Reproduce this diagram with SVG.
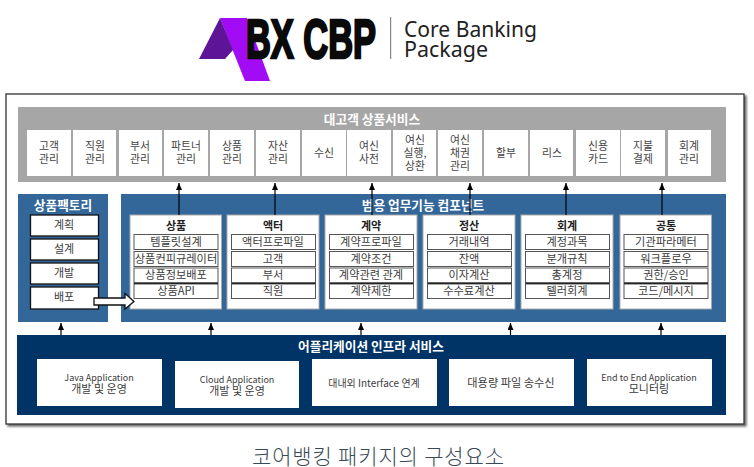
<svg xmlns="http://www.w3.org/2000/svg" width="754" height="467" viewBox="0 0 754 467">
<style>
text{font-family:"Noto Sans CJK KR","Liberation Sans",sans-serif;text-anchor:middle}
.h{font-size:12.7px;font-weight:700;fill:#fff}
.c{fill:#fff}
.cell{font-size:10.8px;fill:#444}
.ct{font-size:11px;font-weight:700;fill:#222}
.row{fill:#fff;stroke:#555;stroke-width:1}
.d{stroke:#222;stroke-width:1.6}
.f{fill:#fff;stroke:#111;stroke-width:1.3}
.b{font-size:11.2px;fill:#3c3c3c}
.e{font-size:9px;fill:#3c3c3c}
.k{font-size:11px;fill:#3c3c3c}
.l{stroke:#000;stroke-width:1.2;fill:none;marker-end:url(#a)}
</style>
<defs>
<marker id="a" markerUnits="userSpaceOnUse" markerWidth="8" markerHeight="7" refX="7" refY="3" orient="auto"><path d="M0 0L7 3L0 6Z" fill="#000"/></marker>
<filter id="s" x="-2%" y="-2%" width="104%" height="104%"><feDropShadow dx="2" dy="2" stdDeviation="1.2" flood-color="#666"/></filter>
</defs>
<rect width="754" height="467" fill="#fff"/>
<g id="logo">
<path d="M220 18H247L270 81H245L229 41Z" fill="#a10cf5"/>
<path d="M199 59L220 18L233 50L225 59Z" fill="#5e1496"/>
<text x="311" y="58" style="font-family:'Liberation Sans',sans-serif;font-weight:700;font-size:55px;fill:#0a0a0a;stroke:#0a0a0a;stroke-width:2.6" textLength="130" lengthAdjust="spacingAndGlyphs">BX CBP</text>
<rect x="390" y="17" width="1.2" height="42" fill="#888"/>
<text x="404" y="37" style="text-anchor:start;font-size:21px;fill:#222;font-family:'Noto Sans',sans-serif" textLength="133" lengthAdjust="spacingAndGlyphs">Core Banking</text>
<text x="404" y="57" style="text-anchor:start;font-size:21px;fill:#222;font-family:'Noto Sans',sans-serif" textLength="84" lengthAdjust="spacingAndGlyphs">Package</text>
</g>
<rect id="frame" x="6" y="94" width="738" height="330" fill="#fff" stroke="#333" stroke-width="1.3" filter="url(#s)"/>
<g id="customer-services">
<rect x="18" y="107" width="708" height="75" fill="#a6a6a6"/>
<text class="h" x="372" y="124">대고객 상품서비스</text>
<g class="c">
<rect x="27" y="130" width="44" height="46"/><rect x="73" y="130" width="43" height="46"/><rect x="119" y="130" width="43" height="46"/><rect x="164" y="130" width="44" height="46"/><rect x="210" y="130" width="44" height="46"/><rect x="256" y="130" width="44" height="46"/><rect x="302" y="130" width="44" height="46"/><rect x="347" y="130" width="44" height="46"/><rect x="393" y="130" width="43" height="46"/><rect x="438" y="130" width="44" height="46"/><rect x="484" y="130" width="44" height="46"/><rect x="530" y="130" width="43" height="46"/><rect x="576" y="130" width="44" height="46"/><rect x="621" y="130" width="44" height="46"/><rect x="668" y="130" width="43" height="46"/>
</g>
<text class="cell" x="49" y="150">고객</text><text class="cell" x="49" y="163">관리</text>
<text class="cell" x="95" y="150">직원</text><text class="cell" x="95" y="163">관리</text>
<text class="cell" x="140" y="150">부서</text><text class="cell" x="140" y="163">관리</text>
<text class="cell" x="186" y="150">파트너</text><text class="cell" x="186" y="163">관리</text>
<text class="cell" x="232" y="150">상품</text><text class="cell" x="232" y="163">관리</text>
<text class="cell" x="278" y="150">자산</text><text class="cell" x="278" y="163">관리</text>
<text class="cell" x="324" y="157">수신</text>
<text class="cell" x="369" y="150">여신</text><text class="cell" x="369" y="163">사전</text>
<text class="cell" x="415" y="144">여신</text><text class="cell" x="415" y="157">실행,</text><text class="cell" x="415" y="170">상환</text>
<text class="cell" x="460" y="144">여신</text><text class="cell" x="460" y="157">채권</text><text class="cell" x="460" y="170">관리</text>
<text class="cell" x="506" y="157">할부</text>
<text class="cell" x="552" y="157">리스</text>
<text class="cell" x="598" y="150">신용</text><text class="cell" x="598" y="163">카드</text>
<text class="cell" x="643" y="150">지불</text><text class="cell" x="643" y="163">결제</text>
<text class="cell" x="689" y="150">회계</text><text class="cell" x="689" y="163">관리</text>
</g>
<g id="product-factory">
<rect x="18" y="194" width="90" height="128" fill="#336699"/>
<text class="h" x="63" y="210">상품팩토리</text>
<rect class="f" x="30.500" y="215" width="68" height="21"/><rect class="f" x="30.500" y="239" width="68" height="21"/><rect class="f" x="30.500" y="263" width="68" height="21"/><rect class="f" x="30.500" y="287" width="68" height="22"/>
<text class="k" x="64" y="229">계획</text><text class="k" x="64" y="253">설계</text><text class="k" x="64" y="277">개발</text><text class="k" x="64" y="301">배포</text>
</g>
<g id="business-components">
<rect x="121" y="194" width="605" height="128" fill="#336699"/>
<text class="h" x="423" y="210">범용 업무기능 컴포넌트</text>
</g>
<g id="card-product">
<rect x="130" y="215" width="91.500" height="94" fill="#fff" stroke="#aaa"/>
<text class="ct" x="176" y="230">상품</text>
<rect class="row" x="134" y="234.500" width="84" height="15"/><rect class="row" x="134" y="251.500" width="84" height="15"/><rect class="row" x="134" y="268" width="84" height="15"/><rect class="row" x="134" y="284" width="84" height="14.500"/><path class="d" d="M134 283.200H218"/>
<text class="b" x="176" y="246">템플릿설계</text><text class="b" x="176" y="263">상품컨피규레이터</text><text class="b" x="176" y="279">상품정보배포</text><text class="b" x="176" y="295">상품API</text>
</g>
<g id="card-actor">
<rect x="227" y="215" width="92" height="94" fill="#fff" stroke="#aaa"/>
<text class="ct" x="273" y="230">액터</text>
<rect class="row" x="231.500" y="234.500" width="84" height="15"/><rect class="row" x="231.500" y="251.500" width="84" height="15"/><rect class="row" x="231.500" y="268" width="84" height="15"/><rect class="row" x="231.500" y="284" width="84" height="14.500"/><path class="d" d="M231.500 283.200H315.500"/>
<text class="b" x="273" y="246">액터프로파일</text><text class="b" x="273" y="263">고객</text><text class="b" x="273" y="279">부서</text><text class="b" x="273" y="295">직원</text>
</g>
<g id="card-contract">
<rect x="325" y="215" width="92" height="94" fill="#fff" stroke="#aaa"/>
<text class="ct" x="371" y="230">계약</text>
<rect class="row" x="329.500" y="234.500" width="84" height="15"/><rect class="row" x="329.500" y="251.500" width="84" height="15"/><rect class="row" x="329.500" y="268" width="84" height="15"/><rect class="row" x="329.500" y="284" width="84" height="14.500"/><path class="d" d="M329.500 283.200H413.500"/>
<text class="b" x="371" y="246">계약프로파일</text><text class="b" x="371" y="263">계약조건</text><text class="b" x="371" y="279">계약관련 관계</text><text class="b" x="371" y="295">계약제한</text>
</g>
<g id="card-settlement">
<rect x="423" y="215" width="92" height="94" fill="#fff" stroke="#aaa"/>
<text class="ct" x="469" y="230">정산</text>
<rect class="row" x="427.500" y="234.500" width="84" height="15"/><rect class="row" x="427.500" y="251.500" width="84" height="15"/><rect class="row" x="427.500" y="268" width="84" height="15"/><rect class="row" x="427.500" y="284" width="84" height="14.500"/><path class="d" d="M427.500 283.200H511.500"/>
<text class="b" x="469" y="246">거래내역</text><text class="b" x="469" y="263">잔액</text><text class="b" x="469" y="279">이자계산</text><text class="b" x="469" y="295">수수료계산</text>
</g>
<g id="card-accounting">
<rect x="521" y="215" width="92" height="94" fill="#fff" stroke="#aaa"/>
<text class="ct" x="567" y="230">회계</text>
<rect class="row" x="525.500" y="234.500" width="84" height="15"/><rect class="row" x="525.500" y="251.500" width="84" height="15"/><rect class="row" x="525.500" y="268" width="84" height="15"/><rect class="row" x="525.500" y="284" width="84" height="14.500"/><path class="d" d="M525.500 283.200H609.500"/>
<text class="b" x="567" y="246">계정과목</text><text class="b" x="567" y="263">분개규칙</text><text class="b" x="567" y="279">총계정</text><text class="b" x="567" y="295">텔러회계</text>
</g>
<g id="card-common">
<rect x="620" y="215" width="91.500" height="94" fill="#fff" stroke="#aaa"/>
<text class="ct" x="666" y="230">공통</text>
<rect class="row" x="624" y="234.500" width="84" height="15"/><rect class="row" x="624" y="251.500" width="84" height="15"/><rect class="row" x="624" y="268" width="84" height="15"/><rect class="row" x="624" y="284" width="84" height="14.500"/><path class="d" d="M624 283.200H708"/>
<text class="b" x="666" y="246">기관파라메터</text><text class="b" x="666" y="263">워크플로우</text><text class="b" x="666" y="279">권한/승인</text><text class="b" x="666" y="295">코드/메시지</text>
</g>
<g id="infra">
<rect x="17" y="335" width="709" height="80" fill="#003366"/>
<text class="h" x="371" y="351">어플리케이션 인프라 서비스</text>
<rect class="c" x="37" y="359" width="125" height="47"/><rect class="c" x="175" y="361" width="124" height="47"/><rect class="c" x="312" y="359" width="125" height="47"/><rect class="c" x="449" y="359" width="125" height="47"/><rect class="c" x="587" y="359" width="125" height="47"/>
<text class="e" x="99" y="381">Java Application</text><text class="k" x="99" y="393">개발 및 운영</text>
<text class="e" x="237" y="383">Cloud Application</text><text class="k" x="237" y="395">개발 및 운영</text>
<text class="b" x="374" y="387" style="font-size:10px">대내외 Interface 연계</text>
<text class="b" x="511" y="387">대용량 파일 송수신</text>
<text class="e" x="649" y="381">End to End Application</text><text class="k" x="649" y="393">모니터링</text>
</g>
<g id="connectors">
<path class="l" d="M179 215V183"/><path class="l" d="M275 215V183"/><path class="l" d="M372 215V183"/><path class="l" d="M470 215V183"/><path class="l" d="M566 215V183"/><path class="l" d="M662 215V183"/>
<path class="l" d="M61 335V323"/><path class="l" d="M211 335V323"/><path class="l" d="M361 335V323"/><path class="l" d="M510.500 335V323"/><path class="l" d="M661 335V323"/>
<path d="M94 298H125V293.500L134 301.500L125 309V305H94Z" fill="#fff" stroke="#111" stroke-width="1.3"/>
</g>
<text id="caption" x="378" y="464" style="font-size:21px;font-weight:300;fill:#3a4a55" textLength="252">코어뱅킹 패키지의 구성요소</text>
</svg>
